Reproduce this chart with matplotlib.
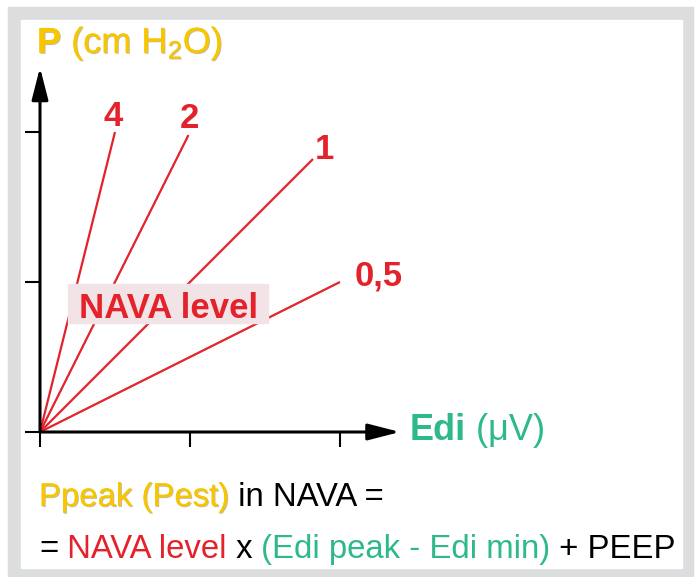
import matplotlib
matplotlib.use("Agg")
import matplotlib.pyplot as plt
import matplotlib.patheffects as pe
from matplotlib.patches import Rectangle

# NAVA levels and where each line stops on the Edi axis
nava_levels = [4, 2, 1, 0.5]
level_labels = ["4", "2", "1", "0,5"]
edi_end = [0.5, 0.99, 1.82, 2.0]
x_ticks = [0, 1, 2]
y_ticks = [0, 1, 2]

RED = "#E3222B"
YELLOW = "#F7C600"
GREEN = "#2EB98A"
GRAY = "#DCDDDF"
BOX = "#F2E4E6"

plt.rcParams["font.family"] = ["Liberation Sans", "DejaVu Sans"]
plt.rcParams["mathtext.fontset"] = "custom"
plt.rcParams["mathtext.rm"] = "Liberation Sans"
plt.rcParams["mathtext.it"] = "Liberation Sans:italic"
plt.rcParams["mathtext.bf"] = "Liberation Sans:bold"

W, H = 697, 577
fig = plt.figure(figsize=(W / 100, H / 100), dpi=100)

# grey frame around the white panel
fig.add_artist(Rectangle((8 / W, 0), 685 / W, 1 - 7 / H, color=GRAY, zorder=-3))
fig.add_artist(Rectangle((21 / W, 1 - 568 / H), 661 / W, 548 / H, color="white", zorder=-2))

# data axes: origin at pixel (40, 432), 150 px per unit
ax = fig.add_axes([40 / W, 1 - 432 / H, 360 / W, 364.5 / H])
ax.set_xlim(0, 2.4)
ax.set_ylim(0, 2.43)
ax.patch.set_visible(False)
for s in ax.spines.values():
    s.set_visible(False)
ax.set_xticks(x_ticks)
ax.set_yticks(y_ticks)
ax.set_xticklabels([])
ax.set_yticklabels([])
ax.tick_params(direction="out", length=10.8, width=1.5, color="black")

arrow = dict(arrowstyle="-|>,head_length=1.95,head_width=0.5", mutation_scale=10,
             lw=2.2, color="black", shrinkA=0, shrinkB=0)
ax.annotate("", xy=(2.4, 0), xytext=(0, 0), arrowprops=arrow, annotation_clip=False)
ax.annotate("", xy=(0, 2.43), xytext=(0, 0), arrowprops=arrow, annotation_clip=False)

label_offsets = [(-1.4, 4.3, "center"), (0.7, 5.0, "center"), (8.0, 0.0, "center"), (10.8, -2.2, "left")]
for lvl, end, lab, (dx, dy, ha) in zip(nava_levels, edi_end, level_labels, label_offsets):
    ax.plot([0, end], [0, lvl * end], color=RED, lw=1.6, solid_capstyle="butt", clip_on=False)
    ax.annotate(lab, xy=(end, lvl * end), xytext=(dx, dy), textcoords="offset points",
                ha=ha, va="baseline", color=RED, fontsize=25, fontweight="bold")

# overlay in pixel coordinates for the text
ov = fig.add_axes([0, 0, 1, 1], zorder=1)
ov.set_xlim(0, W)
ov.set_ylim(H, 0)
ov.axis("off")

shadow = [pe.withSimplePatchShadow(offset=(0.7, -0.7), shadow_rgbFace="#6b5a20", alpha=0.4), pe.Normal()]

ov.text(37, 53, r"$\mathbf{P}$ (cm H$_2$O)", color=YELLOW, fontsize=26, va="baseline",
        path_effects=shadow)

ov.add_patch(Rectangle((68, 284), 200, 39, color=BOX, zorder=2))
ov.text(168.5, 318, "NAVA level", ha="center", va="baseline", color=RED,
        fontsize=25, fontweight="bold", zorder=3)


def rainbow(x, y, parts, size):
    t = None
    for s, c, w, fx in parts:
        kw = dict(color=c, fontsize=size, fontweight=w, path_effects=fx)
        if t is None:
            t = ov.text(x, y, s, va="baseline", **kw)
        else:
            t = ov.annotate(s, xy=(1, 0), xycoords=t, va="bottom", **kw)


rainbow(410, 440, [("Edi", GREEN, "bold", None), (" (μV)", GREEN, "normal", None)], 26)

rainbow(39, 506, [("Ppeak (Pest)", YELLOW, "normal", shadow),
                  (" in NAVA =", "black", "normal", None)], 23.7)
rainbow(39, 558, [("=", "black", "normal", None),
                  (" NAVA level", RED, "normal", None),
                  (" x", "black", "normal", None),
                  (" (Edi peak - Edi min)", GREEN, "normal", None),
                  (" + PEEP", "black", "normal", None)], 23.7)

plt.savefig("out.png", dpi=100)
